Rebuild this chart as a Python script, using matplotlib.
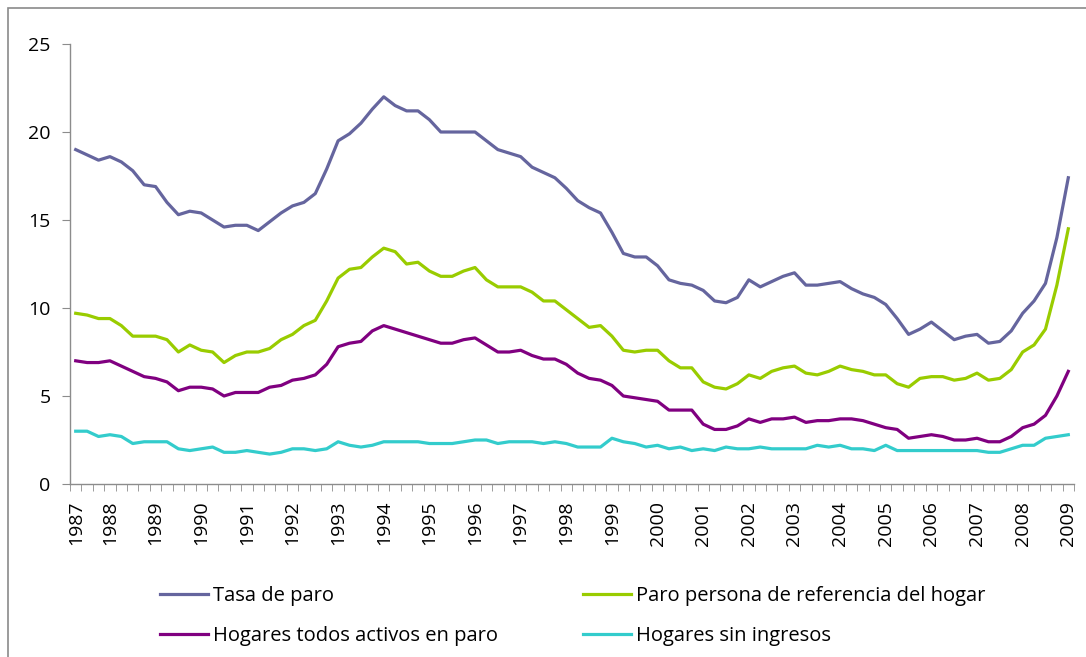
import numpy as np
import matplotlib
matplotlib.use("Agg")
import matplotlib.pyplot as plt
from matplotlib.patches import Rectangle

plt.rcParams['font.family'] = ['Open Sans', 'DejaVu Sans']

# quarterly series, 1987 T2 .. 2009 T1
years = list(range(1987, 2010))

tasa_paro = [19.0, 18.7, 18.4, 18.6, 18.3, 17.8, 17.0, 16.9, 16.0, 15.3,
             15.5, 15.4, 15.0, 14.6, 14.7, 14.7, 14.4, 14.9, 15.4, 15.8,
             16.0, 16.5, 17.9, 19.5, 19.9, 20.5, 21.3, 22.0, 21.5, 21.2,
             21.2, 20.7, 20.0, 20.0, 20.0, 20.0, 19.5, 19.0, 18.8, 18.6,
             18.0, 17.7, 17.4, 16.8, 16.1, 15.7, 15.4, 14.3, 13.1, 12.9,
             12.9, 12.4, 11.6, 11.4, 11.3, 11.0, 10.4, 10.3, 10.6, 11.6,
             11.2, 11.5, 11.8, 12.0, 11.3, 11.3, 11.4, 11.5, 11.1, 10.8,
             10.6, 10.2, 9.4, 8.5, 8.8, 9.2, 8.7, 8.2, 8.4, 8.5,
             8.0, 8.1, 8.7, 9.7, 10.4, 11.4, 14.0, 17.4]

paro_ref = [9.7, 9.6, 9.4, 9.4, 9.0, 8.4, 8.4, 8.4, 8.2, 7.5,
            7.9, 7.6, 7.5, 6.9, 7.3, 7.5, 7.5, 7.7, 8.2, 8.5,
            9.0, 9.3, 10.4, 11.7, 12.2, 12.3, 12.9, 13.4, 13.2, 12.5,
            12.6, 12.1, 11.8, 11.8, 12.1, 12.3, 11.6, 11.2, 11.2, 11.2,
            10.9, 10.4, 10.4, 9.9, 9.4, 8.9, 9.0, 8.4, 7.6, 7.5,
            7.6, 7.6, 7.0, 6.6, 6.6, 5.8, 5.5, 5.4, 5.7, 6.2,
            6.0, 6.4, 6.6, 6.7, 6.3, 6.2, 6.4, 6.7, 6.5, 6.4,
            6.2, 6.2, 5.7, 5.5, 6.0, 6.1, 6.1, 5.9, 6.0, 6.3,
            5.9, 6.0, 6.5, 7.5, 7.9, 8.8, 11.3, 14.5]

hogares_paro = [7.0, 6.9, 6.9, 7.0, 6.7, 6.4, 6.1, 6.0, 5.8, 5.3,
                5.5, 5.5, 5.4, 5.0, 5.2, 5.2, 5.2, 5.5, 5.6, 5.9,
                6.0, 6.2, 6.8, 7.8, 8.0, 8.1, 8.7, 9.0, 8.8, 8.6,
                8.4, 8.2, 8.0, 8.0, 8.2, 8.3, 7.9, 7.5, 7.5, 7.6,
                7.3, 7.1, 7.1, 6.8, 6.3, 6.0, 5.9, 5.6, 5.0, 4.9,
                4.8, 4.7, 4.2, 4.2, 4.2, 3.4, 3.1, 3.1, 3.3, 3.7,
                3.5, 3.7, 3.7, 3.8, 3.5, 3.6, 3.6, 3.7, 3.7, 3.6,
                3.4, 3.2, 3.1, 2.6, 2.7, 2.8, 2.7, 2.5, 2.5, 2.6,
                2.4, 2.4, 2.7, 3.2, 3.4, 3.9, 5.0, 6.4]

sin_ingresos = [3.0, 3.0, 2.7, 2.8, 2.7, 2.3, 2.4, 2.4, 2.4, 2.0,
                1.9, 2.0, 2.1, 1.8, 1.8, 1.9, 1.8, 1.7, 1.8, 2.0,
                2.0, 1.9, 2.0, 2.4, 2.2, 2.1, 2.2, 2.4, 2.4, 2.4,
                2.4, 2.3, 2.3, 2.3, 2.4, 2.5, 2.5, 2.3, 2.4, 2.4,
                2.4, 2.3, 2.4, 2.3, 2.1, 2.1, 2.1, 2.6, 2.4, 2.3,
                2.1, 2.2, 2.0, 2.1, 1.9, 2.0, 1.9, 2.1, 2.0, 2.0,
                2.1, 2.0, 2.0, 2.0, 2.0, 2.2, 2.1, 2.2, 2.0, 2.0,
                1.9, 2.2, 1.9, 1.9, 1.9, 1.9, 1.9, 1.9, 1.9, 1.9,
                1.8, 1.8, 2.0, 2.2, 2.2, 2.6, 2.7, 2.8]

n = len(tasa_paro)
x = np.arange(n)
# label at first point (1987) and at the first quarter of each later year
year_pos = [0] + [3 + 4 * (y - 1988) for y in years[1:]]

fig = plt.figure(figsize=(10.86, 6.57), dpi=100)
ax = fig.add_axes([70 / 1086, 1 - 484 / 657, 1004 / 1086, 440 / 657])

lw = 2.3
l1, = ax.plot(x, tasa_paro, color='#65659e', lw=lw, label='Tasa de paro')
l2, = ax.plot(x, paro_ref, color='#99cc00', lw=lw, label='Paro persona de referencia del hogar')
l3, = ax.plot(x, hogares_paro, color='#800080', lw=lw, label='Hogares todos activos en paro')
l4, = ax.plot(x, sin_ingresos, color='#33cccc', lw=lw, label='Hogares sin ingresos')

ax.set_xlim(-0.5, n - 0.5)
ax.set_ylim(0, 25)
ax.set_yticks([0, 5, 10, 15, 20, 25])
ax.set_xticks(year_pos)
ax.set_xticklabels([str(y) for y in years], rotation=90)
ax.set_xticks(np.arange(-0.5, n), minor=True)

for s in ['top', 'right']:
    ax.spines[s].set_visible(False)
for s in ['left', 'bottom']:
    ax.spines[s].set_color('#8c8c8c')
    ax.spines[s].set_linewidth(1.0)

ax.tick_params(axis='y', direction='out', length=6, color='#8c8c8c', labelsize=14, pad=8)
ax.tick_params(axis='x', which='major', length=0, labelsize=14, pad=12)
ax.tick_params(axis='x', which='minor', direction='out', length=5, color='#8c8c8c')

# legend in two columns, each one placed on its own
leg_kw = dict(frameon=False, fontsize=14.5, loc='upper left', borderpad=0,
              borderaxespad=0, handlelength=2.4, handletextpad=0.25,
              labelspacing=1.0)
fig.legend(handles=[l1, l3], bbox_to_anchor=(160 / 1086, 1 - 586 / 657), **leg_kw)
fig.legend(handles=[l2, l4], bbox_to_anchor=(583 / 1086, 1 - 586 / 657), **leg_kw)

# chart area border (Excel style)
fig.add_artist(Rectangle((8 / 1086, -0.1), 1.2, 1.1 - 8 / 657,
                         transform=fig.transFigure, fill=False,
                         edgecolor='#8a8a8a', lw=1.2))

fig.savefig('out.png', dpi=100)
